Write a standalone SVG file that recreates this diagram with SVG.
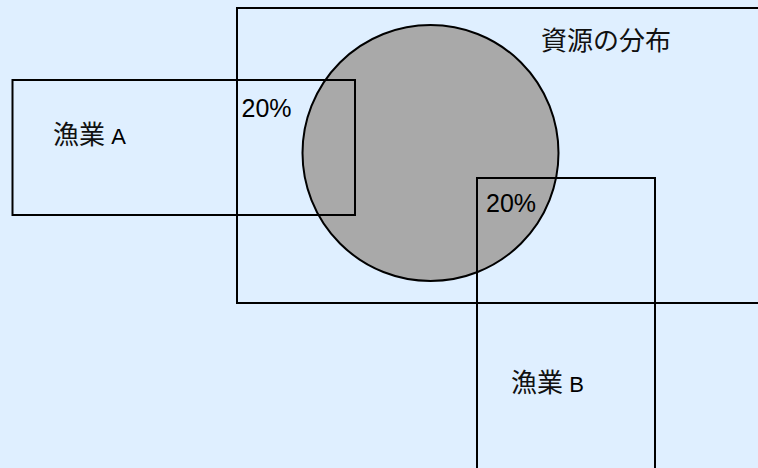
<svg xmlns="http://www.w3.org/2000/svg" width="758" height="468" viewBox="0 0 758 468">
<style>
.box{fill:none;stroke:#000;stroke-width:2}
.t{font-family:"Liberation Sans","Noto Sans CJK JP",sans-serif;font-size:22px;fill:#000}
.cjk{font-family:"Noto Sans CJK JP",sans-serif;font-size:26px;fill:#111}
.pct{font-size:25px}
</style>
<rect width="758" height="468" fill="#dfefff"/>
<g id="region">
<rect class="box" x="237" y="8" width="540" height="295"/>
<text class="cjk" x="541" y="50">資源の分布</text>
</g>
<g id="resource">
<circle cx="430.5" cy="153" r="128" fill="#a9a9a9" stroke="#000" stroke-width="2"/>
</g>
<g id="fisheryA">
<rect class="box" x="12.5" y="80" width="342.5" height="135"/>
<text class="t" x="53" y="144"><tspan class="cjk">漁業</tspan> A</text>
<text class="t pct" x="241.5" y="117">20%</text>
</g>
<g id="fisheryB">
<rect class="box" x="477" y="178" width="178" height="300"/>
<text class="t" x="511" y="392"><tspan class="cjk">漁業</tspan> B</text>
<text class="t pct" x="486" y="211.5">20%</text>
</g>
<g id="connectors"></g>
</svg>
